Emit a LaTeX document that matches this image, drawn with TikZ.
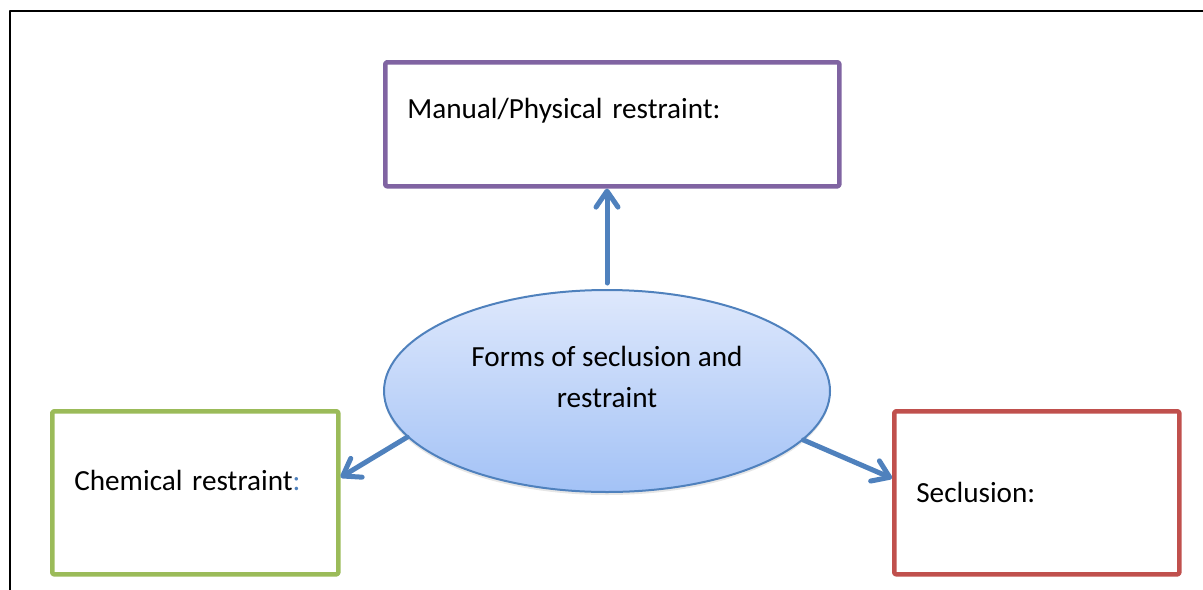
\documentclass[tikz,border=0pt]{standalone}
\usepackage{fontspec}
\setmainfont{Carlito}
\usetikzlibrary{shapes.geometric,arrows.meta,shadows}
\definecolor{boxpurple}{HTML}{8064A2}
\definecolor{boxgreen}{HTML}{9BBB59}
\definecolor{boxred}{HTML}{C0504D}
\definecolor{arrowblue}{HTML}{4F81BD}
\definecolor{elltop}{HTML}{DEE8FC}
\definecolor{ellbottom}{HTML}{A3C2F6}
\begin{document}
\begin{tikzpicture}[x=0.5pt,y=-0.5pt,>={Straight Barb[round,length=8pt,width=11pt]}, line join=round, line cap=round,
		formbox/.style={draw, line width=2.3pt, rounded corners=1pt, anchor=north west, align=left, inner xsep=11pt, inner ysep=0pt, font=\fontsize{14.6}{18}\selectfont},
		link/.style={->, draw=arrowblue, line width=2.5pt}]
			\useasboundingbox (0,0) rectangle (1203,589);
			% page frame
			\draw[line width=0.9pt] (10,600) -- (10,11) -- (1210,11);
			% the three forms
			\node[formbox, draw=boxpurple, text width=205pt, text height=28pt, text depth=34pt] (manual) at (383,60) {Manual/Physical restraint:};
			\node[formbox, draw=boxgreen, text width=121pt, text height=39.5pt, text depth=42pt] (chem) at (50,409) {Chemical restraint\textcolor{arrowblue}{:}};
			\node[formbox, draw=boxred, text width=120.5pt, text height=45.5pt, text depth=36pt] (secl) at (892,409) {Seclusion:};
			% centre
			\node[ellipse, draw=arrowblue, line width=1pt, top color=elltop, bottom color=ellbottom, drop shadow={opacity=0.2, shadow xshift=0pt, shadow yshift=-1.5pt},
				minimum width=223pt, minimum height=101pt, inner sep=0pt, align=center, text height=34pt, text depth=18pt, font=\fontsize{14.6}{20.5}\selectfont] (ell) at (607,391) {Forms of seclusion and\\restraint};
			\draw[link] ([yshift=3pt]ell.north) -- (ell.north |- manual.south);
			\draw[link] (ell.193.5) -- ([yshift=7.75pt]chem.east);
			\draw[link] (ell.346.5) -- ([yshift=7.25pt]secl.west);
		\end{tikzpicture}
\end{document}
